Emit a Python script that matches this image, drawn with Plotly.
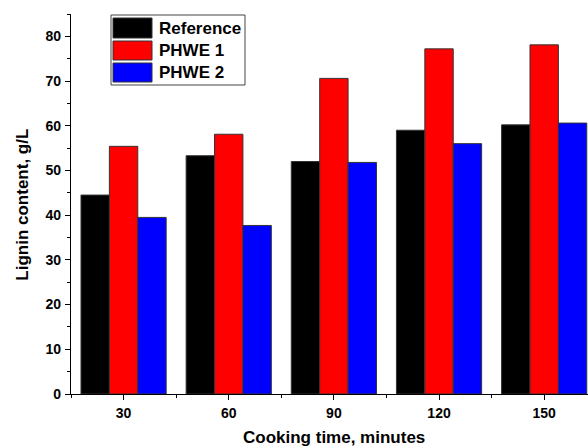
import plotly.graph_objects as go

# ---- data ----
cooking_time = [30, 60, 90, 120, 150]
reference = [44.5, 53.3, 52.0, 59.0, 60.2]
phwe1 = [55.4, 58.1, 70.6, 77.2, 78.1]
phwe2 = [39.5, 37.7, 51.8, 56.0, 60.6]
series_names = ["Reference", "PHWE 1", "PHWE 2"]
series_colors = ["#000000", "#FF0000", "#0000FF"]
x_ticks = [30, 60, 90, 120, 150]
y_ticks = [0, 10, 20, 30, 40, 50, 60, 70, 80]

FONT = "Arial, Liberation Sans, sans-serif"
W, H = 588, 447
ML, MR, MT, MB = 71, 0, 14, 53

fig = go.Figure()
for name, vals, col in zip(series_names, [reference, phwe1, phwe2], series_colors):
    fig.add_trace(go.Bar(
        x=cooking_time, y=vals, name=name,
        marker=dict(color=col, line=dict(color="#333333", width=1)),
        showlegend=False,
    ))

axis_common = dict(
    showline=True, linecolor="black", linewidth=1.3,
    ticks="outside", ticklen=5, tickwidth=1.3, tickcolor="black",
    showgrid=False, zeroline=False, mirror=False, automargin=False,
    tickfont=dict(family=FONT, size=14, color="black", weight="bold"),
)

fig.update_layout(
    width=W, height=H,
    margin=dict(l=ML, r=MR, t=MT, b=MB, autoexpand=False),
    paper_bgcolor="white", plot_bgcolor="white",
    barmode="group", bargap=0.19, bargroupgap=0,
    font=dict(family=FONT, color="black"),
    xaxis=dict(range=[15, 162.5], tickvals=x_ticks, ticktext=[str(v) for v in x_ticks],
               minor=dict(dtick=15, tick0=15, ticklen=3, tickwidth=1.3, tickcolor="black", ticks="outside"),
               ticklabelstandoff=1,
               **axis_common),
    yaxis=dict(range=[0, 85], tickvals=y_ticks, ticktext=[str(v) for v in y_ticks],
               minor=dict(dtick=5, tick0=0, ticklen=3, tickwidth=1.3, tickcolor="black", ticks="outside"),
               ticklabelstandoff=1,
               **axis_common),
)

pw = W - ML - MR
ph = H - MT - MB

def px2x(px):
    return (px - ML) / pw

def py2y(py):
    return (H - MB - py) / ph

# axis titles
fig.add_annotation(text="Cooking time, minutes", xref="paper", yref="paper",
                   x=px2x(333.5), y=py2y(437), xanchor="center", yanchor="middle",
                   showarrow=False,
                   font=dict(family=FONT, size=17, color="black", weight="bold"))
fig.add_annotation(text="Lignin content, g/L", xref="paper", yref="paper",
                   x=px2x(21.7), y=py2y(205), xanchor="center", yanchor="middle",
                   textangle=-90, showarrow=False,
                   font=dict(family=FONT, size=17, color="black", weight="bold"))

# custom legend
fig.add_shape(type="rect", xref="paper", yref="paper",
              x0=px2x(111), x1=px2x(245), y0=py2y(85), y1=py2y(15),
              line=dict(color="#444444", width=1), fillcolor="white", layer="above")
rows = [(18, 38), (41, 60), (63, 82)]
for (t, b), name, col in zip(rows, series_names, series_colors):
    fig.add_shape(type="rect", xref="paper", yref="paper",
                  x0=px2x(113), x1=px2x(152), y0=py2y(b), y1=py2y(t),
                  line=dict(color="#333333", width=1), fillcolor=col, layer="above")
    fig.add_annotation(text=name, xref="paper", yref="paper",
                       x=px2x(157), y=py2y((t + b) / 2), xanchor="left", yanchor="middle",
                       showarrow=False,
                       font=dict(family=FONT, size=17, color="black", weight="bold"))

fig.write_html(
    "out.html",
    config={"displayModeBar": False},
    post_script="document.body.style.margin='0';document.body.style.overflow='hidden';",
)
